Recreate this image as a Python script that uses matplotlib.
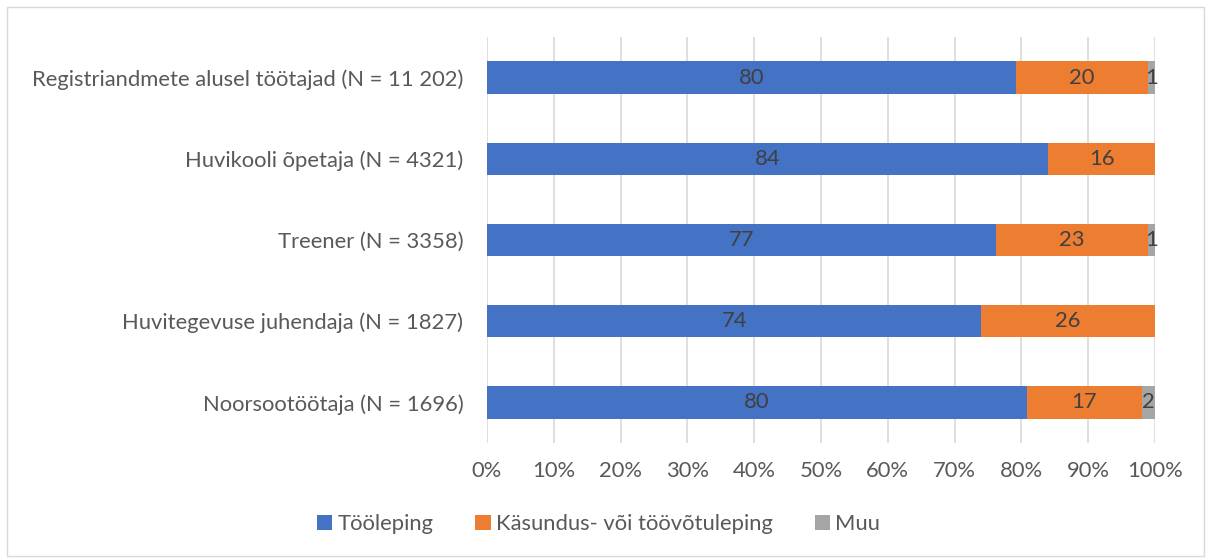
import numpy as np
import matplotlib
matplotlib.use("Agg")
import matplotlib.pyplot as plt
from matplotlib.patches import Rectangle

plt.rcParams['font.family'] = ['Lato', 'DejaVu Sans']

categories = ["Registriandmete alusel töötajad (N = 11 202)",
              "Huvikooli õpetaja (N = 4321)",
              "Treener (N = 3358)",
              "Huvitegevuse juhendaja (N = 1827)",
              "Noorsootöötaja (N = 1696)"]
series = ["Tööleping", "Käsundus- või töövõtuleping", "Muu"]
tooleping = [79.2, 84.0, 76.2, 74.0, 80.8]
kasundus = [19.8, 16.0, 22.8, 26.0, 17.2]
muu = [1.0, 0.0, 1.0, 0.0, 2.0]
lbl_tooleping = ["80", "84", "77", "74", "80"]
lbl_kasundus = ["20", "16", "23", "26", "17"]
lbl_muu = ["1", "", "1", "", "2"]
xticks = np.arange(0, 101, 10)

colors = ["#4472C4", "#ED7D31", "#A5A5A5"]
text_col = "#595959"
fs = 15.8

fig = plt.figure(figsize=(12.09, 5.60), dpi=100)
ax = fig.add_axes([0.4028, 0.209, 0.5525, 0.725])

y = np.arange(len(categories))[::-1]
left = np.zeros(len(categories))
for vals, labels, col, name in zip([tooleping, kasundus, muu],
                                   [lbl_tooleping, lbl_kasundus, lbl_muu],
                                   colors, series):
    vals = np.array(vals)
    ax.barh(y, vals, left=left, height=0.4, color=col, label=name, zorder=2)
    for yi, l, v, t in zip(y, left, vals, labels):
        if t:
            ax.text(l + v / 2, yi, t, ha="center", va="center",
                    fontsize=fs, color="#404040", zorder=3)
    left = left + vals

ax.set_xlim(0, 100)
ax.set_ylim(-0.5, 4.5)
ax.set_xticks(xticks)
ax.set_xticklabels([f"{v}%" for v in xticks])
ax.set_yticks(y)
ax.set_yticklabels(categories)
ax.tick_params(axis="both", length=0, labelsize=fs, labelcolor=text_col)
ax.tick_params(axis="x", pad=13)
ax.tick_params(axis="y", pad=17)
ax.grid(axis="x", color="#D9D9D9", lw=1.2, zorder=0)
for s in ax.spines.values():
    s.set_visible(False)

fig.legend(loc="center", bbox_to_anchor=(0.495, 0.064), ncol=3, frameon=False,
           fontsize=fs, handlelength=0.7, handleheight=0.7, handletextpad=0.25,
           columnspacing=1.9, labelcolor=text_col)

fig.patches.append(Rectangle((0.006, 0.008), 0.99, 0.98, transform=fig.transFigure,
                             fill=False, edgecolor="#D9D9D9", lw=1))

fig.savefig("out.png", dpi=100)
